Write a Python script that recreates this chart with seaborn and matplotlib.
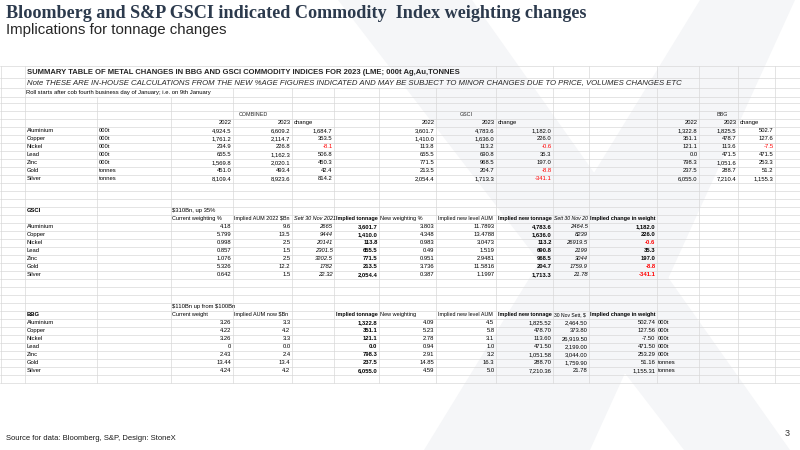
import matplotlib
matplotlib.use("Agg")
import matplotlib.pyplot as plt
from matplotlib import font_manager
import seaborn as sns

# ---- data ----
metals = ["Aluminium", "Copper", "Nickel", "Lead", "Zinc", "Gold", "Silver"]
units = ["000t", "000t", "000t", "000t", "000t", "tonnes", "tonnes"]

# summary block (000t, Ag/Au tonnes)
comb_2022 = [4924.5, 1761.2, 234.9, 655.5, 1569.8, 451.0, 8109.4]
comb_2023 = [6609.2, 2114.7, 226.8, 1162.3, 2020.1, 493.4, 8923.6]
comb_change = [1684.7, 353.5, -8.1, 506.8, 450.3, 42.4, 814.2]
gsci_2022 = [3601.7, 1410.0, 113.8, 655.5, 771.5, 213.5, 2054.4]
gsci_2023 = [4783.6, 1636.0, 113.2, 690.8, 968.5, 204.7, 1713.3]
gsci_change = [1182.0, 226.0, -0.6, 35.3, 197.0, -8.8, -341.1]
bbg_2022 = [1322.8, 351.1, 121.1, 0.0, 798.3, 237.5, 6055.0]
bbg_2023 = [1825.5, 478.7, 113.6, 471.5, 1051.6, 288.7, 7210.4]
bbg_change = [502.7, 127.6, -7.5, 471.5, 253.3, 51.2, 1155.3]

# GSCI detail
gsci_weight = [4.18, 5.799, 0.998, 0.857, 1.076, 5.326, 0.642]
gsci_aum = [9.6, 13.5, 2.5, 1.5, 2.5, 12.2, 1.5]
gsci_sett_2021 = [2665, 9444, 20141, 2301.5, 3202.5, 1782, 22.32]
gsci_new_weight = [3.803, 4.348, 0.983, 0.49, 0.951, 3.736, 0.387]
gsci_new_aum = [11.7893, 13.4788, 3.0473, 1.519, 2.9481, 11.5816, 1.1997]
gsci_sett_new = [2464.5, 8239, 26919.5, 2199, 3044, 1759.9, 21.78]

# BBG detail
bbg_weight = [3.26, 4.22, 3.26, 0, 2.43, 13.44, 4.24]
bbg_aum = [3.3, 4.2, 3.3, 0.0, 2.4, 13.4, 4.2]
bbg_new_weight = [4.09, 5.23, 2.78, 0.94, 2.91, 14.85, 4.59]
bbg_new_aum = [4.5, 5.8, 3.1, 1.0, 3.2, 16.3, 5.0]
bbg_new_tonnage = [1825.52, 478.70, 113.60, 471.50, 1051.58, 288.70, 7210.36]
bbg_sett = [2464.50, 373.80, 26919.50, 2199.00, 3044.00, 1759.90, 21.78]
bbg_change_exact = [502.74, 127.56, -7.50, 471.50, 253.29, 51.16, 1155.31]

# ---- style ----
sns.set_theme(style="white")
names = {f.name for f in font_manager.fontManager.ttflist}
NARROW = "Liberation Sans Narrow" if "Liberation Sans Narrow" in names else "Liberation Sans"
CELL = 4.9 if NARROW == "Liberation Sans Narrow" else 4.2
HEAD = CELL - 0.2
plt.rcParams["font.family"] = [NARROW, "DejaVu Sans"]

fig = plt.figure(figsize=(8, 4.5), dpi=100)
ax = fig.add_axes([0, 0, 1, 1])
ax.set_xlim(0, 800)
ax.set_ylim(450, 0)
ax.axis("off")

# faint logo watermark
wm = "#f5f6f8"
ax.fill([338, 472, 790, 684], [0, 0, 450, 450], color=wm, lw=0, zorder=0)
ax.fill([700, 795, 590, 424], [0, 0, 450, 450], color=wm, lw=0, zorder=0)

# ---- spreadsheet grid ----
col = [1, 25, 97, 171, 233, 292, 334, 379, 436, 496, 553, 589, 657, 699, 738, 775]
hlines = [66, 78, 87.5, 96.7] + [102.7 + 8 * k for k in range(36)]
overflow = {0: 470, 1: 685, 2: 220}  # rows whose text hides cell borders
grid = "#d9d9d9"
for y in hlines:
    ax.plot([0, 800], [y, y], color=grid, lw=0.5, zorder=1)
for i in range(len(hlines) - 1):
    y0, y1 = hlines[i], hlines[i + 1]
    for x in col:
        if i in overflow and 25 < x < overflow[i]:
            continue
        ax.plot([x, x], [y0, y1], color=grid, lw=0.5, zorder=1)


def row_y(k):
    return 130.7 + 8 * k


def cell(x, y, s, ha="left", weight="normal", style="normal", color="black",
         size=CELL):
    dx = 1.5 if ha == "left" else -1.5
    return ax.text(x + dx, y, s, ha=ha, va="center", fontsize=size,
                   fontweight=weight, fontstyle=style, color=color, zorder=3,
                   parse_math=False)


def c1(v):
    return f"{v:,.1f}"


def red(v):
    return "#ff0000" if v < 0 else "black"


# ---- header text rows ----
ax.text(27, 72.5, "SUMMARY TABLE OF METAL CHANGES IN BBG AND GSCI COMMODITY INDICES "
        "FOR 2023 (LME; 000t Ag,Au,TONNES", fontsize=5.5, fontweight="bold",
        family="Liberation Sans", va="center", zorder=3, parse_math=False)
ax.text(27, 82.5, "Note THESE ARE IN-HOUSE CALCULATIONS FROM THE NEW %AGE FIGURES "
        "INDICATED AND MAY BE SUBJECT TO MINOR CHANGES DUE TO PRICE, VOLUMES CHANGES ETC",
        fontsize=5.55, fontstyle="italic", family="Liberation Sans", va="center",
        zorder=3, parse_math=False)
cell(25, 92.2, "Roll starts after cob fourth business day of January; i.e. on 9th January")

# ---- summary block ----
for xc, lab in [(253, "COMBINED"), (466, "GSCI"), (722, "BBG")]:
    ax.text(xc, row_y(-2), lab, ha="center", va="center", fontsize=CELL - 0.3, zorder=3)
for right, mid in [(233, 292), (436, 496), (699, 738)]:
    cell(right, row_y(-1), "2022", ha="right")
    cell(mid, row_y(-1), "2023", ha="right")
    cell(mid, row_y(-1), "change")

for i, m in enumerate(metals):
    y = row_y(i)
    cell(25, y, m)
    cell(97, y, units[i])
    cell(233, y, c1(comb_2022[i]), ha="right")
    cell(292, y, c1(comb_2023[i]), ha="right")
    cell(334, y, c1(comb_change[i]), ha="right", color=red(comb_change[i]))
    cell(436, y, c1(gsci_2022[i]), ha="right")
    cell(496, y, c1(gsci_2023[i]), ha="right")
    cell(553, y, c1(gsci_change[i]), ha="right", color=red(gsci_change[i]))
    cell(699, y, c1(bbg_2022[i]), ha="right")
    cell(738, y, c1(bbg_2023[i]), ha="right")
    cell(775, y, c1(bbg_change[i]), ha="right", color=red(bbg_change[i]))

# ---- GSCI detail ----
cell(25, row_y(10), "GSCI", weight="bold")
cell(171, row_y(10), "$310Bn, up 35%")
hy = row_y(11)
cell(171, hy, "Current weighting %", size=HEAD)
cell(233, hy, "Implied AUM 2022 $Bn", size=HEAD - 0.1)
cell(292, hy, "Sett 30 Nov 2021", style="italic", size=HEAD)
cell(334, hy, "Implied tonnage", weight="bold", size=HEAD - 0.1)
cell(379, hy, "New weighting %", size=HEAD)
cell(436, hy, "Implied new level AUM", size=HEAD - 0.1)
cell(496, hy, "Implied new tonnage", weight="bold", size=HEAD - 0.1)
cell(553, hy, "Sett 30 Nov 20", style="italic", size=3.7)
cell(589, hy, "Implied change in weight", weight="bold", size=HEAD)
for i, m in enumerate(metals):
    y = row_y(12 + i)
    cell(25, y, m)
    cell(233, y, f"{gsci_weight[i]:g}", ha="right")
    cell(292, y, f"{gsci_aum[i]:.1f}", ha="right")
    cell(334, y, f"{gsci_sett_2021[i]:g}", ha="right", style="italic")
    cell(379, y, c1(gsci_2022[i]), ha="right", weight="bold")
    cell(436, y, f"{gsci_new_weight[i]:g}", ha="right")
    cell(496, y, f"{gsci_new_aum[i]:g}", ha="right")
    cell(553, y, c1(gsci_2023[i]), ha="right", weight="bold")
    cell(589, y, f"{gsci_sett_new[i]:g}", ha="right", style="italic")
    cell(657, y, c1(gsci_change[i]), ha="right", weight="bold", color=red(gsci_change[i]))

# ---- BBG detail ----
cell(171, row_y(22), "$110Bn up from $100Bn")
hy = row_y(23)
cell(25, hy, "BBG", weight="bold")
cell(171, hy, "Current weight", size=HEAD)
cell(233, hy, "Implied AUM now $Bn", size=HEAD)
cell(334, hy, "Implied tonnage", weight="bold", size=HEAD - 0.1)
cell(379, hy, "New weighting", size=HEAD)
cell(436, hy, "Implied new level AUM", size=HEAD - 0.1)
cell(496, hy, "Implied new tonnage", weight="bold", size=HEAD - 0.1)
cell(553, hy, "30 Nov Sett, $", size=3.6)
cell(589, hy, "Implied change in weight", weight="bold", size=HEAD)
for i, m in enumerate(metals):
    y = row_y(24 + i)
    cell(25, y, m)
    cell(233, y, f"{bbg_weight[i]:g}", ha="right")
    cell(292, y, f"{bbg_aum[i]:.1f}", ha="right")
    cell(379, y, c1(bbg_2022[i]), ha="right", weight="bold")
    cell(436, y, f"{bbg_new_weight[i]:.2f}", ha="right")
    cell(496, y, f"{bbg_new_aum[i]:.1f}", ha="right")
    cell(553, y, f"{bbg_new_tonnage[i]:,.2f}", ha="right")
    cell(589, y, f"{bbg_sett[i]:,.2f}", ha="right")
    cell(657, y, f"{bbg_change_exact[i]:,.2f}", ha="right")
    cell(656, y, units[i])

# ---- slide titles / footer ----
ax.text(6, 13, "Bloomberg and S&P GSCI indicated Commodity  Index weighting changes",
        family="Liberation Serif", fontweight="bold", fontsize=13.1,
        color="#2c3a4d", va="center", zorder=3, parse_math=False)
ax.text(6, 30, "Implications for tonnage changes", fontsize=10.8,
        color="#262626", va="center", zorder=3)
ax.text(6, 438, "Source for data: Bloomberg, S&P, Design: StoneX", fontsize=5.5,
        color="#1a1a1a", va="center", zorder=3, parse_math=False)
ax.text(790, 434, "3", fontsize=6.5, color="#333333", ha="right", va="center", zorder=3)

fig.savefig("out.png", dpi=100)
